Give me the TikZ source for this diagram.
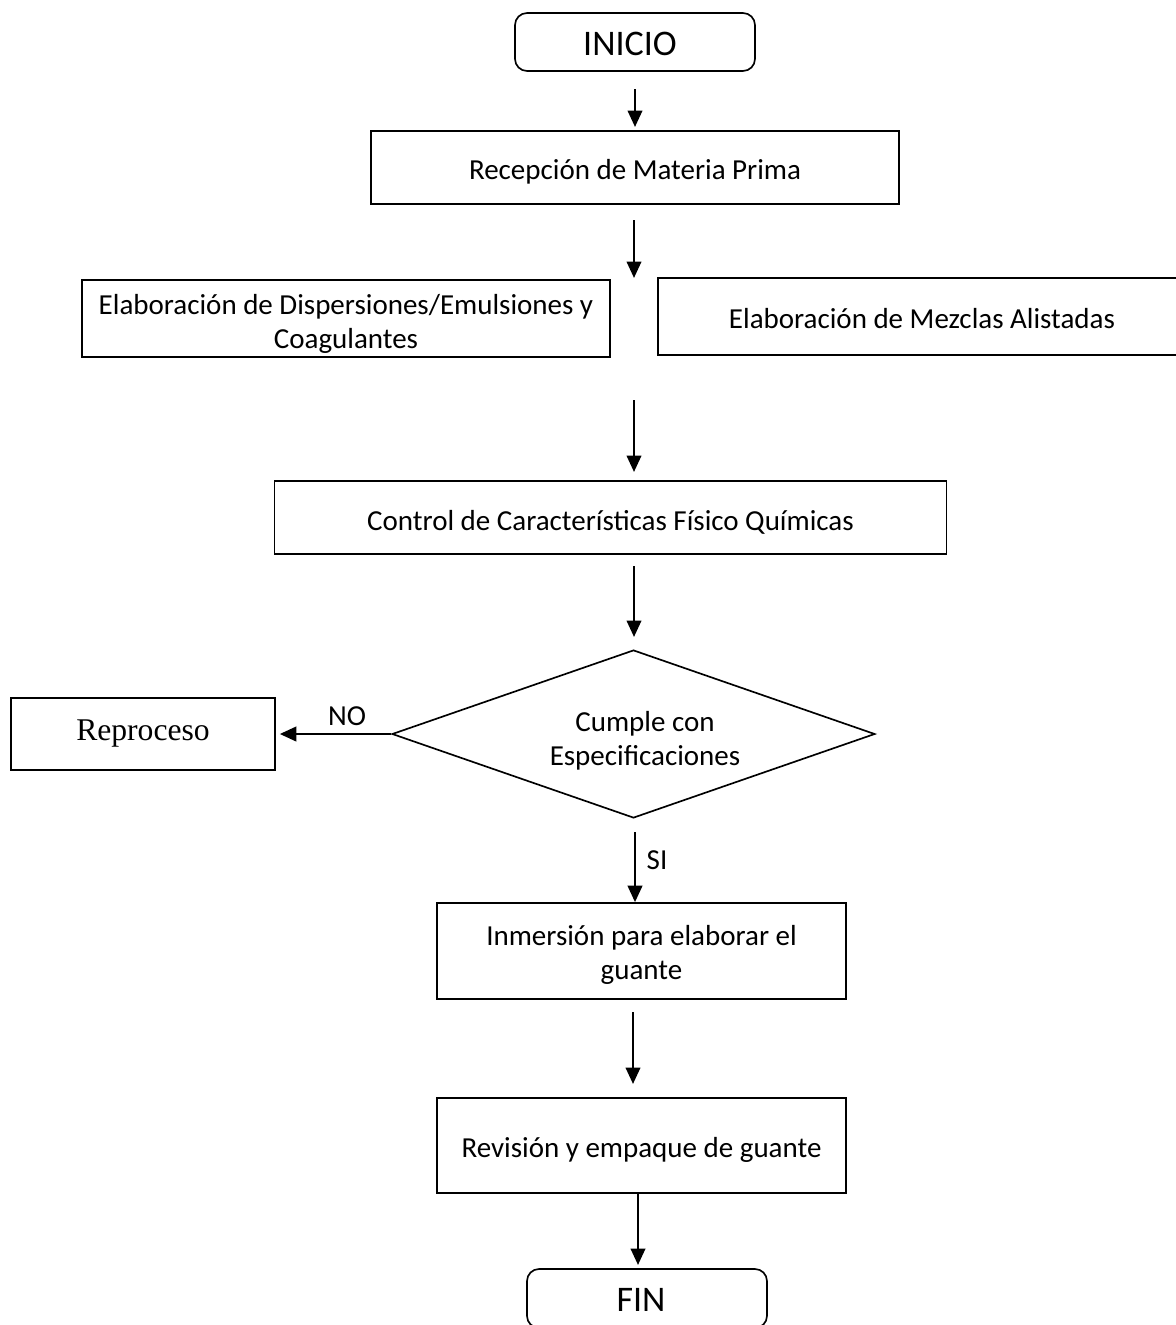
\documentclass[tikz,border=0pt]{standalone}
\usepackage{fontspec}
\setmainfont{Carlito}
\newfontfamily\timesf{Liberation Serif}
\usetikzlibrary{arrows.meta,shapes.geometric}
\begin{document}
\begin{tikzpicture}[x=0.02cm,y=-0.02cm,
  every node/.style={font=\fontsize{16.5}{19.5}\selectfont},
  frame/.style={draw,line width=0.95pt,inner sep=0pt},
  box/.style={frame,align=center,execute at begin node={\rule{0pt}{16.5pt}}},
  term/.style={frame,rounded corners=0.24cm},
  flow/.style={line width=1.4pt,-{Triangle[length=3.3mm,width=2.9mm]}},
  lbl/.style={inner sep=0pt,align=center},
  big/.style={inner sep=0pt,font=\fontsize{20.5}{24}\selectfont}]
\useasboundingbox (0,0) rectangle (1176,1325);

\node[term,minimum width=4.8cm,minimum height=1.16cm] (inicio) at (635,42) {};
\node[big] (iniciot) at (630,44) {INICIO};
\node[box,minimum width=10.56cm,minimum height=1.46cm] (recep) at (635,167.5) {Recepción de Materia Prima};
\node[frame,minimum width=10.56cm,minimum height=1.54cm] (disp) at (346,318.5) {};
\node[lbl] (dispt) at (346,324) {Elaboración de Dispersiones/Emulsiones y\\Coagulantes};
\node[frame,minimum width=10.44cm,minimum height=1.54cm] (mezc) at (919,316.5) {};
\node[lbl] (mezct) at (922,319) {Elaboración de Mezclas Alistadas};
\node[box,minimum width=13.44cm,minimum height=1.46cm] (ctrl) at (610.5,517.5) {Control de Características Físico Químicas};
\node[frame,diamond,minimum width=9.66cm,minimum height=3.36cm] (dec) at (633.5,734) {};
\node[lbl] (dect) at (645,741) {Cumple con\\Especificaciones};
\node[frame,minimum width=5.28cm,minimum height=1.44cm,font=\timesf\fontsize{18}{21}\selectfont] (repro) at (143,734) {Reproceso};
\node[frame,minimum width=8.18cm,minimum height=1.92cm] (inm) at (641.5,951) {};
\node[lbl] (inmt) at (641.5,955) {Inmersión para elaborar el\\guante};
\node[box,minimum width=8.18cm,minimum height=1.9cm] (rev) at (641.5,1145.5) {Revisión y empaque de guante};
\node[term,minimum width=4.8cm,minimum height=1.18cm] (fin) at (647,1298.5) {};
\node[big] (fint) at (641,1300) {FIN};

\coordinate (a1s) at (635,89);   \coordinate (a1e) at (635,127);
\coordinate (a2s) at (634,220);  \coordinate (a2e) at (634,278);
\coordinate (a3s) at (634,400);  \coordinate (a3e) at (634,472);
\coordinate (a4s) at (634,566);  \coordinate (a4e) at (634,637);
\coordinate (a6s) at (633,1012); \coordinate (a6e) at (633,1084);
\coordinate (a7e) at (638,1265);

\draw[flow] (a1s) -- (a1e);
\draw[flow] (a2s) -- (a2e);
\draw[flow] (a3s) -- (a3e);
\draw[flow] (a4s) -- (a4e);
\draw[flow,shorten >=4*0.02cm] (dec.west) -- (repro.east);
\node[lbl] (no) at (347,716) {NO};
\draw[flow,shorten <=14*0.02cm] (635,818) coordinate (sis) -- (sis |- inm.north);
\node[lbl] (si) at (657,860) {SI};
\draw[flow] (a6s) -- (a6e);
\draw[flow] (rev.south -| a7e) -- (a7e);
\end{tikzpicture}
\end{document}
